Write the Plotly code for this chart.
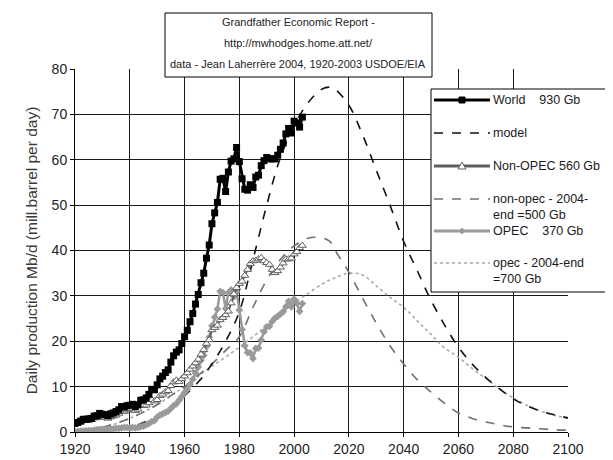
import plotly.graph_objects as go

# ---------------- data ----------------
hist_years = list(range(1920, 2004))
world = [1.9, 2.1, 2.4, 2.8, 2.8, 2.9, 3.0, 3.5, 3.6, 4.1,
         3.9, 3.8, 3.6, 4.0, 4.2, 4.5, 4.9, 5.6, 5.5, 5.8,
         5.9, 6.1, 5.6, 6.0, 7.0, 7.1, 7.5, 8.3, 9.4, 9.3,
         10.4, 11.7, 12.3, 13.1, 13.7, 15.4, 16.8, 17.6, 18.1, 19.5,
         21.0, 22.4, 24.3, 26.1, 28.2, 30.3, 32.9, 35.0, 38.3, 41.2,
         45.9, 48.3, 50.6, 55.7, 55.9, 53.0, 57.3, 59.7, 60.2, 62.7,
         59.6, 55.8, 53.5, 53.3, 54.5, 53.9, 56.2, 56.6, 58.7, 59.8,
         60.5, 60.2, 60.2, 60.2, 61.0, 62.3, 63.7, 65.7, 66.9, 65.9,
         68.5, 68.1, 67.2, 69.4]
opec = [0.1, 0.1, 0.2, 0.2, 0.3, 0.3, 0.3, 0.4, 0.5, 0.6,
        0.6, 0.6, 0.6, 0.7, 0.7, 0.8, 0.8, 0.9, 1.0, 1.0,
        0.9, 1.0, 0.9, 1.0, 1.2, 1.3, 1.6, 1.9, 2.3, 2.5,
        3.3, 3.7, 4.0, 4.3, 4.6, 5.2, 5.8, 6.2, 7.0, 7.8,
        8.7, 9.4, 10.5, 11.6, 13.0, 14.3, 15.8, 16.9, 18.8, 20.9,
        23.4, 25.3, 27.1, 31.0, 30.7, 27.2, 30.7, 31.3, 29.8, 30.9,
        26.9, 22.6, 19.0, 17.5, 17.4, 16.2, 18.4, 18.5, 20.3, 22.1,
        23.2, 23.3, 24.4, 25.1, 25.5, 26.0, 26.5, 27.6, 28.8, 27.6,
        29.3, 28.4, 26.6, 28.3]
non_opec = [round(w - o, 1) for w, o in zip(world, opec)]

model_years = [1930, 1940, 1950, 1955, 1960, 1965, 1970, 1975, 1980, 1985,
               1990, 1995, 2000, 2005, 2010, 2013, 2015, 2020, 2025, 2030,
               2035, 2040, 2045, 2050, 2055, 2060, 2065, 2070, 2075, 2080,
               2085, 2090, 2095, 2100]
world_model = [0.3, 1.0, 3.5, 5.5, 8.0, 11.0, 15.0, 20.0, 26.5, 38.0,
               50.0, 60.5, 67.5, 72.5, 75.5, 76.0, 75.5, 72.0, 65.5, 57.7,
               50.0, 42.0, 35.5, 29.0, 23.5, 18.7, 15.0, 12.0, 9.5, 7.3,
               5.8, 4.6, 3.8, 3.1]
nonopec_model = [1.0, 3.0, 6.0, 8.0, 10.0, 12.5, 15.0, 18.0, 21.0, 27.5,
                 33.5, 38.0, 41.0, 42.7, 42.8, 42.0, 40.0, 35.2, 29.5, 24.0,
                 19.0, 15.0, 11.5, 8.8, 6.3, 4.2, 3.0, 2.2, 1.6, 1.1,
                 0.9, 0.7, 0.5, 0.4]
opec_model = [0.8, 3.0, 6.0, 8.0, 10.0, 12.3, 14.5, 16.5, 18.7, 21.0,
              23.5, 26.0, 28.4, 30.5, 32.5, 33.5, 34.0, 35.0, 34.6, 32.2,
              29.7, 27.5, 24.5, 21.5, 18.5, 16.5, 14.0, 11.8, 9.5, 7.5,
              5.9, 4.6, 3.7, 3.0]

x_ticks = [1920, 1940, 1960, 1980, 2000, 2020, 2040, 2060, 2080, 2100]
y_ticks = [0, 10, 20, 30, 40, 50, 60, 70, 80]

title_lines = ["Grandfather Economic Report -",
               "http://mwhodges.home.att.net/",
               "data - Jean Laherrère 2004, 1920-2003 USDOE/EIA"]
legend_labels = ["World    930 Gb", "model", "Non-OPEC 560 Gb",
                 "non-opec - 2004-<br>end =500 Gb", "OPEC    370 Gb",
                 "opec - 2004-end<br>=700 Gb"]
y_title = "Daily production Mb/d (mill.barrel per day)"

# ---------------- layout helpers ----------------
# the page body has an 8px margin; window coordinates are fig coords + 8
OFF = 8
W, H = 613 - OFF, 460 - OFF
L, R, T, B = 75 - OFF, 45, 69 - OFF, 28
PW, PH = W - L - R, H - T - B


def px(xw):
    return (xw - OFF - L) / PW


def py(yw):
    return (H - B - (yw - OFF)) / PH


FONT = "Liberation Sans, Arial, sans-serif"
C_WORLD = "#000000"
C_NON = "#5e5e5e"
C_NONM = "#707070"
C_OPEC = "#9a9a9a"
C_OPECM = "#a8a8a8"

fig = go.Figure()

# model curves
fig.add_trace(go.Scatter(x=model_years, y=opec_model, mode="lines",
                         line=dict(color=C_OPECM, width=1.6, dash="dot", shape="spline")))
fig.add_trace(go.Scatter(x=model_years, y=nonopec_model, mode="lines",
                         line=dict(color=C_NONM, width=1.6, dash="dash", shape="spline")))
fig.add_trace(go.Scatter(x=model_years, y=world_model, mode="lines",
                         line=dict(color="#111111", width=1.6, dash="dash", shape="spline")))
# data
fig.add_trace(go.Scatter(x=hist_years, y=opec, mode="lines+markers",
                         line=dict(color=C_OPEC, width=2.5),
                         marker=dict(symbol="diamond", size=6, color=C_OPEC)))
fig.add_trace(go.Scatter(x=hist_years, y=non_opec, mode="lines+markers",
                         line=dict(color=C_NON, width=2),
                         marker=dict(symbol="triangle-up", size=7, color="white",
                                     line=dict(color=C_NON, width=1))))
fig.add_trace(go.Scatter(x=hist_years, y=world, mode="lines+markers",
                         line=dict(color=C_WORLD, width=3),
                         marker=dict(symbol="square", size=7, color=C_WORLD)))

shapes = []
annotations = []

# title box
shapes.append(dict(type="rect", xref="paper", yref="paper", layer="above",
                   x0=px(165), x1=px(432), y0=py(77), y1=py(13),
                   line=dict(color="black", width=1), fillcolor="white"))
for i, t in enumerate(title_lines):
    annotations.append(dict(xref="paper", yref="paper", x=px(298), y=py(22 + 21 * i),
                            text=t, showarrow=False, xanchor="center", yanchor="middle",
                            font=dict(family=FONT, size=11, color="#222")))

# legend box
shapes.append(dict(type="rect", xref="paper", yref="paper", layer="above",
                   x0=px(431), x1=px(650), y0=py(292), y1=py(89),
                   line=dict(color="black", width=1), fillcolor="white"))
leg_y = [100, 133, 166, 199, 231, 263]
leg_styles = [
    dict(color=C_WORLD, width=3, dash="solid"),
    dict(color="#111111", width=1.5, dash="dash"),
    dict(color=C_NON, width=3, dash="solid"),
    dict(color=C_NONM, width=1.5, dash="dash"),
    dict(color=C_OPEC, width=3, dash="solid"),
    dict(color=C_OPECM, width=1.5, dash="dot"),
]
for yy, st, lab in zip(leg_y, leg_styles, legend_labels):
    shapes.append(dict(type="line", xref="paper", yref="paper", layer="above",
                       x0=px(434), x1=px(490), y0=py(yy), y1=py(yy), line=st))
    annotations.append(dict(xref="paper", yref="paper", x=px(491), y=py(yy - 9),
                            text=lab, showarrow=False, xanchor="left", yanchor="top",
                            align="left",
                            font=dict(family=FONT, size=12.5, color="#1a1a1a")))
# legend markers
shapes.append(dict(type="rect", xref="paper", yref="paper", layer="above",
                   x0=px(459), x1=px(465), y0=py(103), y1=py(97),
                   line=dict(color="black", width=1), fillcolor="black"))
shapes.append(dict(type="path", xref="paper", yref="paper", layer="above",
                   path="M {} {} L {} {} L {} {} Z".format(px(458), py(169), px(466), py(169),
                                                        px(462), py(162)),
                   line=dict(color=C_NON, width=1), fillcolor="white"))
shapes.append(dict(type="path", xref="paper", yref="paper", layer="above",
                   path="M {} {} L {} {} L {} {} L {} {} Z".format(px(462), py(228), px(465), py(231),
                                                                px(462), py(234), px(459), py(231)),
                   line=dict(color=C_OPEC, width=1), fillcolor=C_OPEC))

fig.update_layout(
    width=W, height=H,
    margin=dict(l=L, r=R, t=T, b=B, autoexpand=False),
    paper_bgcolor="white", plot_bgcolor="white",
    showlegend=False,
    font=dict(family=FONT, size=14, color="#222"),
    shapes=shapes, annotations=annotations,
    xaxis=dict(range=[1920, 2100], tickvals=x_ticks, ticktext=[str(v) for v in x_ticks],
               showgrid=True, gridcolor="#1a1a1a", gridwidth=1,
               showline=True, linecolor="black", linewidth=1, mirror=False,
               ticks="outside", ticklen=4, tickcolor="black", zeroline=False,
               tickfont=dict(family=FONT, size=14, color="#222")),
    yaxis=dict(range=[0, 80], tickvals=y_ticks,
               showgrid=True, gridcolor="#1a1a1a", gridwidth=1,
               showline=True, linecolor="black", linewidth=1,
               ticks="outside", ticklen=4, tickcolor="black", zeroline=False,
               tickfont=dict(family=FONT, size=14, color="#222"),
               title=dict(text=y_title, standoff=10,
                          font=dict(family=FONT, size=15.5, color="#3a3a3a"))),
)

fig.write_html("out.html")
